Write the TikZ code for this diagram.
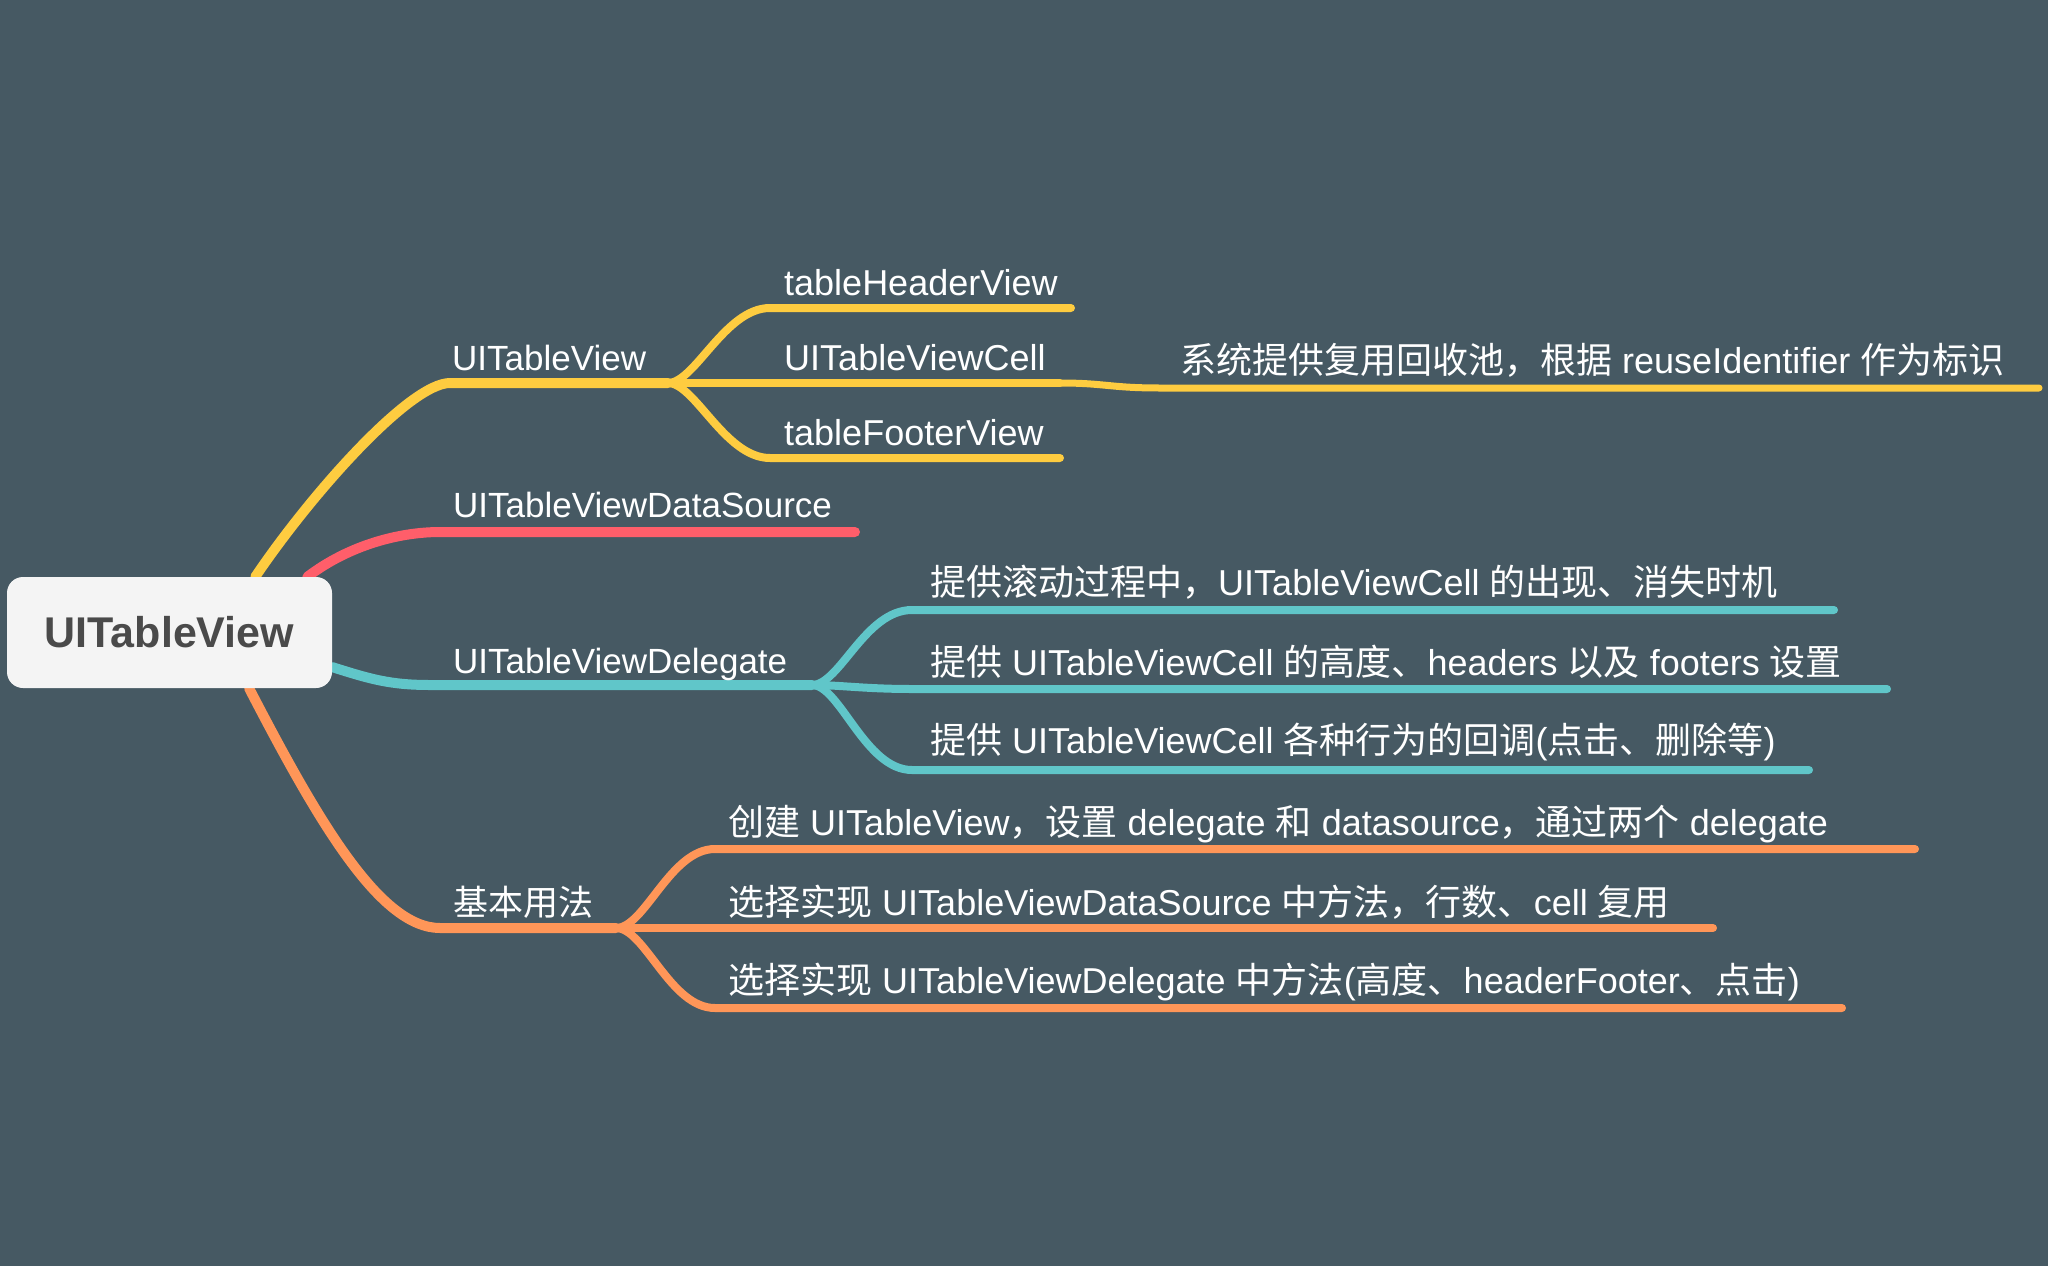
\documentclass[tikz,border=0pt]{standalone}
\usepackage{fontspec}
\setmainfont{Liberation Sans}
\newfontfamily\zhfont{Noto Sans CJK SC}
\newcommand\zh[1]{{\zhfont #1}}
\usetikzlibrary{backgrounds}
\definecolor{bgcol}{RGB}{70,89,99}
\definecolor{rootfill}{RGB}{244,244,244}
\definecolor{roottext}{RGB}{74,74,74}
\definecolor{yel}{RGB}{254,204,64}
\definecolor{rd}{RGB}{255,94,106}
\definecolor{tl}{RGB}{96,198,201}
\definecolor{org}{RGB}{255,150,88}
\tikzset{
  rootbox/.style={fill=rootfill, rounded corners=16pt, minimum width=325pt,
    minimum height=111pt, inner sep=0pt, text=roottext,
    font=\fontsize{43}{48}\selectfont\bfseries},
  mainline/.style={line width=10pt, line cap=round},
  subline/.style={line width=8pt, line cap=round},
  tipline/.style={line width=7pt, line cap=round},
  topic/.style={anchor=base west, inner sep=0pt, text=white,
    font=\fontsize{35}{40}\selectfont},
  subtopic/.style={topic, font=\fontsize{36}{42}\selectfont},
}
\begin{document}
\begin{tikzpicture}[x=1pt, y=-1pt]
\node[rootbox] (root) at (169.5,632.5) {UITableView};
% junctions and line ends
\coordinate (tvBend) at (450,383);  \coordinate (tvJoin) at (668,383);
\coordinate (dsBend) at (440,532);  \coordinate (dsEnd) at (855,532);
\coordinate (dgBend) at (430,685);  \coordinate (dgJoin) at (812,685);
\coordinate (buBend) at (440,928);  \coordinate (buJoin) at (616,928);
\coordinate (hdrBend) at (770,308); \coordinate (hdrEnd) at (1071,308);
\coordinate (cellEnd) at (1060,383);
\coordinate (ftrBend) at (770,458); \coordinate (ftrEnd) at (1060,458);
\coordinate (reuseBend) at (1160,388); \coordinate (reuseEnd) at (2039,388);
\foreach \n/\y/\x in {1/610/1834, 2/689/1887, 3/770/1809} {
  \coordinate (dgBend\n) at (912,\y);
  \coordinate (dgEnd\n) at (\x,\y);
}
\foreach \n/\y/\x in {1/849/1915, 2/928/1713, 3/1008/1842} {
  \coordinate (buBend\n) at (715,\y);
  \coordinate (buEnd\n) at (\x,\y);
}
\begin{scope}[on background layer]
\fill[bgcol] (0,0) rectangle (2048,1266);
% first level
\draw[mainline, yel] (root.33.9) .. controls +(56,-83) and +(-40,0) .. (tvBend) -- (tvJoin);
\draw[mainline, rd] (root.22.6) .. controls +(42,-32) and +(-40,0) .. (dsBend) -- (dsEnd);
\draw[mainline, tl] (root.-12.3) .. controls +(38,12) and +(-40,0) .. (dgBend) -- (dgJoin);
\draw[mainline, org] (root.-35.6) .. controls +(69,133) and +(-60,0) .. (buBend) -- (buJoin);
% second level
\draw[subline, yel] (tvJoin) .. controls +(27,0) and +(-45,0) .. (hdrBend) -- (hdrEnd);
\draw[subline, yel] (tvJoin) -- (cellEnd);
\draw[subline, yel] (tvJoin) .. controls +(27,0) and +(-45,0) .. (ftrBend) -- (ftrEnd);
\draw[tipline, yel] (cellEnd) .. controls +(45,0) and +(-50,0) .. (reuseBend) -- (reuseEnd);
\foreach \n in {1,2,3} {
  \draw[subline, tl] (dgJoin) .. controls +(28,0) and +(-47,0) .. (dgBend\n) -- (dgEnd\n);
  \draw[subline, org] (buJoin) .. controls +(29,0) and +(-45,0) .. (buBend\n) -- (buEnd\n);
}
\end{scope}
% labels
\node[topic] (tvText) at (452,370) {UITableView};
\node[topic] (dsText) at (453,517) {UITableViewDataSource};
\node[topic] (dgText) at (453,673) {UITableViewDelegate};
\node[topic] (buText) at (453,915) {\zh{基本用法}};
\node[subtopic] (hdrText) at (784,295) {tableHeaderView};
\node[subtopic] (cellText) at (784,370) {UITableViewCell};
\node[subtopic] (ftrText) at (784,445) {tableFooterView};
\node[subtopic] (reuseText) at (1180,373) {\zh{系统提供复用回收池，根据} reuseIdentifier \zh{作为标识}};
\node[subtopic] (dgText1) at (930,595) {\zh{提供滚动过程中，}UITableViewCell \zh{的出现、消失时机}};
\node[subtopic] (dgText2) at (930,675) {\zh{提供} UITableViewCell \zh{的高度、}headers \zh{以及} footers \zh{设置}};
\node[subtopic] (dgText3) at (930,753) {\zh{提供} UITableViewCell \zh{各种行为的回调}(\zh{点击、删除等})};
\node[subtopic] (buText1) at (728,835) {\zh{创建} UITableView\zh{，设置} delegate \zh{和} datasource\zh{，通过两个} delegate};
\node[subtopic] (buText2) at (728,915) {\zh{选择实现} UITableViewDataSource \zh{中方法，行数、}cell \zh{复用}};
\node[subtopic] (buText3) at (728,993) {\zh{选择实现} UITableViewDelegate \zh{中方法}(\zh{高度、}headerFooter\zh{、点击})};
\end{tikzpicture}
\end{document}
